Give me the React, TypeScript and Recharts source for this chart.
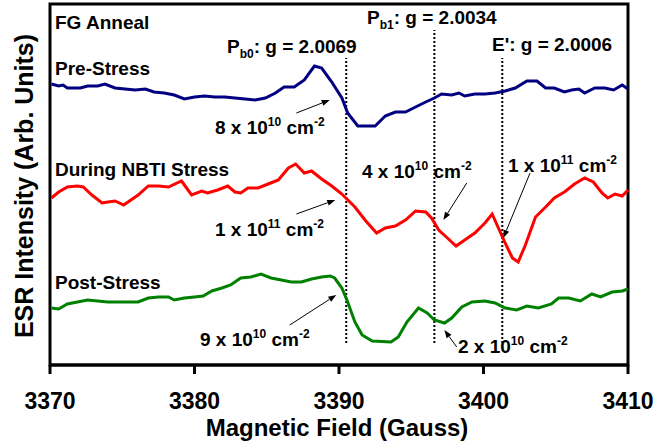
import React from "react";
import { LineChart, Line, XAxis, YAxis, ReferenceLine, ReferenceArea } from "recharts";

const FONT = "'Liberation Sans', Arial, sans-serif";

// magnetic field (Gauss) and ESR signal (arb.)
const preField = [3370.1, 3370.6, 3370.9, 3371.2, 3371.7, 3372.1, 3372.6, 3373.3, 3373.8, 3374.5, 3375.2, 3375.9, 3376.6, 3377.2, 3377.9, 3378.6, 3379.3, 3380.0, 3380.7, 3381.4, 3382.1, 3382.8, 3383.5, 3384.2, 3384.9, 3385.6, 3386.2, 3386.9, 3387.6, 3388.3, 3388.8, 3389.5, 3390.2, 3390.6, 3391.3, 3392.5, 3393.2, 3393.9, 3394.6, 3395.3, 3396.0, 3396.6, 3397.1, 3397.8, 3398.3, 3398.7, 3399.4, 3400.1, 3400.8, 3401.5, 3402.2, 3403.0, 3403.7, 3404.3, 3404.9, 3405.6, 3406.1, 3406.6, 3407.0, 3407.7, 3408.4, 3409.0, 3409.6, 3410.0];
const preSignal = [281, 279, 280, 277, 277, 277, 279, 279, 281, 277, 276, 275, 276, 273, 272, 270, 266, 268, 269, 268, 268, 267, 266, 265, 267, 272, 278, 278, 285, 299, 297, 283, 267, 252, 239, 239, 249, 253, 253, 258, 263, 267, 271, 270, 272, 269, 271, 271, 272, 274, 277, 284, 284, 277, 277, 273, 275, 276, 272, 277, 277, 275, 280, 276];

const duringField = [3370.1, 3370.6, 3371.2, 3371.9, 3372.3, 3372.9, 3373.6, 3374.0, 3374.5, 3375.1, 3375.6, 3376.1, 3376.8, 3377.5, 3378.2, 3379.1, 3379.8, 3380.5, 3380.9, 3381.6, 3382.3, 3382.8, 3383.2, 3383.7, 3384.4, 3385.1, 3385.8, 3386.5, 3387.0, 3387.6, 3388.1, 3388.8, 3389.5, 3390.2, 3391.1, 3391.8, 3392.6, 3393.2, 3393.9, 3394.6, 3395.3, 3396.0, 3396.4, 3396.9, 3397.5, 3398.1, 3398.7, 3399.4, 3400.1, 3400.6, 3401.0, 3401.5, 3402.0, 3402.4, 3402.9, 3403.6, 3404.3, 3404.9, 3405.6, 3406.3, 3407.0, 3407.6, 3408.2, 3408.6, 3409.1, 3409.6, 3410.0];
const duringSignal = [167, 173, 178, 179, 178, 170, 162, 163, 164, 160, 165, 170, 179, 179, 178, 184, 170, 174, 172, 175, 179, 173, 172, 177, 177, 181, 185, 197, 201, 192, 194, 186, 179, 171, 158, 145, 132, 137, 139, 145, 154, 153, 147, 135, 127, 119, 125, 132, 142, 151, 138, 122, 107, 103, 120, 148, 158, 167, 173, 181, 187, 183, 172, 167, 171, 169, 175];

const postField = [3370.1, 3370.6, 3371.2, 3371.9, 3372.6, 3373.3, 3374.0, 3374.7, 3375.4, 3376.1, 3376.8, 3377.5, 3378.2, 3378.6, 3379.3, 3380.0, 3380.6, 3381.2, 3381.9, 3382.5, 3383.2, 3383.9, 3384.6, 3385.3, 3386.0, 3386.7, 3387.4, 3388.1, 3388.8, 3389.4, 3389.7, 3390.2, 3390.6, 3391.1, 3391.6, 3392.3, 3393.6, 3394.1, 3394.7, 3395.5, 3396.1, 3396.6, 3397.3, 3397.8, 3398.5, 3399.2, 3400.1, 3400.8, 3401.5, 3402.3, 3403.0, 3403.8, 3404.7, 3405.2, 3405.9, 3406.7, 3407.5, 3408.1, 3408.9, 3409.6, 3410.0];
const postSignal = [57, 56, 61, 63, 65, 64, 63, 63, 63, 63, 67, 68, 68, 65, 67, 68, 69, 74, 77, 80, 87, 88, 91, 87, 85, 83, 83, 86, 88, 89, 87, 77, 63, 43, 30, 24, 23, 28, 43, 57, 52, 45, 42, 47, 58, 63, 64, 62, 57, 55, 59, 57, 61, 67, 67, 64, 71, 68, 73, 74, 76];

const fieldTicks = [3370, 3380, 3390, 3400, 3410];

// g-value marker lines: field position, bottom and top of the dotted segment
const markerField = [3390.5, 3396.6, 3401.3];
const markerTop = [307, 335, 307];
const markerBottom = 22;

// density arrows: [from field, from signal, to field, to signal]
const arrows = [
  [3387.05, 252, 3389.36, 265],
  [3387.05, 151, 3389.74, 165],
  [3398.84, 182, 3397.22, 145],
  [3403.22, 192, 3401.37, 127],
  [3386.59, 40, 3389.81, 70],
  [3398.15, 18, 3397.29, 35],
];

const toRows = (f: number[], s: number[]) => f.map((x, i) => ({ field: x, signal: s[i] }));
const preData = toRows(preField, preSignal);
const duringData = toRows(duringField, duringSignal);
const postData = toRows(postField, postSignal);

const ArrowShape = (p: any) => {
  const { x1, y1, x2, y2 } = p;
  const a = Math.atan2(y2 - y1, x2 - x1);
  const len = 8;
  const w = 3;
  const bx = x2 - len * Math.cos(a);
  const by = y2 - len * Math.sin(a);
  const px = -Math.sin(a) * w;
  const py = Math.cos(a) * w;
  return (
    <g>
      <line x1={x1} y1={y1} x2={bx} y2={by} stroke="#000" strokeWidth={1} />
      <polygon points={`${x2},${y2} ${bx + px},${by + py} ${bx - px},${by - py}`} fill="#000" />
    </g>
  );
};

const Density = ({ x, y, mant, exp }: { x: number; y: number; mant: string; exp: string }) => (
  <text x={x} y={y} fontSize={19} fontWeight={700} fontFamily={FONT} fill="#000">
    {mant} x 10
    <tspan fontSize={12} dy={-8}>{exp}</tspan>
    <tspan dy={8}> cm</tspan>
    <tspan fontSize={12} dy={-8}>-2</tspan>
  </text>
);

const label = { fontSize: 19, fontWeight: 700, fontFamily: FONT, fill: "#000" } as const;

export default function App() {
  return (
    <div style={{ position: "absolute", left: 0, top: 0, width: 670, height: 442, background: "#fff" }}>
      <LineChart width={670} height={442} margin={{ top: 4, right: 42, bottom: 0, left: 50 }}>
        <XAxis
          type="number"
          dataKey="field"
          domain={[3370, 3410]}
          ticks={fieldTicks}
          height={77}
          tickSize={9}
          tickMargin={19}
          tick={{ fill: "#000", fontSize: 23, fontWeight: 700, fontFamily: FONT }}
          tickLine={{ stroke: "#000", strokeWidth: 3 }}
          axisLine={{ stroke: "#000", strokeWidth: 3 }}
        />
        <YAxis type="number" domain={[0, 361]} hide />
        {markerField.map((g, i) => (
          <ReferenceLine
            key={"m" + i}
            segment={[{ x: g, y: markerBottom }, { x: g, y: markerTop[i] }]}
            stroke="#000"
            strokeWidth={2}
            strokeDasharray="2 2"
          />
        ))}
        <Line data={preData} dataKey="signal" stroke="#000080" strokeWidth={3} dot={false} isAnimationActive={false} />
        <Line data={duringData} dataKey="signal" stroke="#ff0000" strokeWidth={3} dot={false} isAnimationActive={false} />
        <Line data={postData} dataKey="signal" stroke="#008000" strokeWidth={3} dot={false} isAnimationActive={false} />
        {arrows.map((a, i) => (
          <ReferenceLine
            key={"a" + i}
            segment={[{ x: a[0], y: a[1] }, { x: a[2], y: a[3] }]}
            shape={(p: any) => <ArrowShape {...p} />}
          />
        ))}
        <ReferenceArea x1={3370} x2={3410} y1={0} y2={361} fill="none" stroke="#000" strokeWidth={3} />
      </LineChart>
      <svg width={670} height={442} style={{ position: "absolute", left: 0, top: 0, pointerEvents: "none" }}>
        <text x={55} y={29} {...label}>FG Anneal</text>
        <text x={55} y={75} {...label}>Pre-Stress</text>
        <text x={55} y={176} {...label}>During NBTI Stress</text>
        <text x={55} y={289} {...label}>Post-Stress</text>
        <text x={227} y={53} {...label}>
          P<tspan fontSize={12} dy={5}>b0</tspan>
          <tspan dy={-5}>: g = 2.0069</tspan>
        </text>
        <text x={367} y={24} {...label}>
          P<tspan fontSize={12} dy={5}>b1</tspan>
          <tspan dy={-5}>: g = 2.0034</tspan>
        </text>
        <text x={492} y={51} {...label}>E': g = 2.0006</text>
        <Density x={215} y={134} mant="8" exp="10" />
        <Density x={215} y={236} mant="1" exp="11" />
        <Density x={362} y={178} mant="4" exp="10" />
        <Density x={508} y={172} mant="1" exp="11" />
        <Density x={200} y={346} mant="9" exp="10" />
        <Density x={458} y={353} mant="2" exp="10" />
        <text x={337} y={436} textAnchor="middle" fontSize={24} fontWeight={700} fontFamily={FONT} fill="#000">
          Magnetic Field (Gauss)
        </text>
        <text
          transform="translate(33,186) rotate(-90)"
          textAnchor="middle"
          fontSize={25}
          fontWeight={700}
          fontFamily={FONT}
          fill="#000"
        >
          ESR Intensity (Arb. Units)
        </text>
      </svg>
    </div>
  );
}
